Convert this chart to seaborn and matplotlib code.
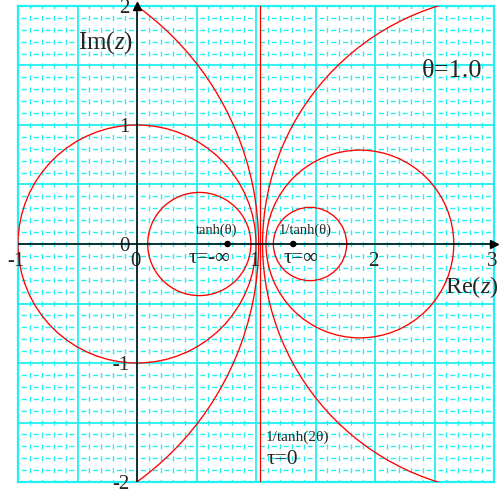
import matplotlib

matplotlib.use("Agg")

import matplotlib.pyplot as plt
import seaborn as sns
from matplotlib.patches import Circle
from matplotlib.ticker import MultipleLocator

# crossings of each red circle with the real axis (left end, right end)
CIRCLE_LEFT = [0.09, -1.0, -3.91, 1.146, 1.084, 1.055]
CIRCLE_RIGHT = [0.957, 1.0, 1.022, 1.762, 2.662, 5.243]
LINE_X = 1.0373  # 1/tanh(2θ), the τ=0 line
FOCI_X = [0.7616, 1.3130]  # tanh(θ), 1/tanh(θ)
FOCI_Y = [0.0, 0.0]
X_TICKS = [-1, 0, 1, 2, 3]
Y_TICKS = [2, 1, 0, -1, -2]

GRID = "#22F0F0"
SERIF = ["Liberation Serif", "DejaVu Serif"]


def setup() -> None:
    sns.set_theme(style="white")
    plt.rcParams["font.family"] = SERIF
    plt.rcParams["mathtext.fontset"] = "custom"
    plt.rcParams["mathtext.rm"] = "Liberation Serif"
    plt.rcParams["mathtext.it"] = "Liberation Serif:italic"
    plt.rcParams["lines.scale_dashes"] = False


def main() -> None:
    setup()
    fig = plt.figure(figsize=(4.99, 4.94), dpi=100)
    ax = fig.add_axes([18 / 499, 12 / 494, 476 / 499, 476 / 494])
    ax.set_xlim(-1, 3)
    ax.set_ylim(-2, 2)

    # cyan graph paper: solid every 0.5, dashed every 0.1
    ax.xaxis.set_major_locator(MultipleLocator(0.5))
    ax.yaxis.set_major_locator(MultipleLocator(0.5))
    ax.xaxis.set_minor_locator(MultipleLocator(0.1))
    ax.yaxis.set_minor_locator(MultipleLocator(0.1))
    ax.tick_params(which="both", length=0, labelbottom=False, labelleft=False)
    ax.grid(True, which="major", color=GRID, linewidth=1.3)
    ax.xaxis.grid(True, which="minor", color=GRID, linewidth=1.0, linestyle=(1.9, (3.6, 4.97)))
    ax.yaxis.grid(True, which="minor", color=GRID, linewidth=1.0, linestyle=(6.2, (3.6, 4.97)))
    ax.set_axisbelow(True)
    for side in ax.spines.values():
        side.set_color(GRID)
        side.set_linewidth(1.6)

    # τ = const circles
    for left, right in zip(CIRCLE_LEFT, CIRCLE_RIGHT):
        ax.add_patch(Circle(((left + right) / 2, 0), (right - left) / 2,
                            fill=False, edgecolor="red", linewidth=0.95, zorder=3))
    ax.axvline(LINE_X, color="red", linewidth=0.95, zorder=3)

    # axes with arrows
    ax.axhline(0, color="black", linewidth=1.1, zorder=4)
    ax.axvline(0, color="black", linewidth=1.1, zorder=4)
    ax.plot([0], [2], marker="^", ms=6, color="black", clip_on=False, zorder=5)
    ax.plot([3], [0], marker=">", ms=6, color="black", clip_on=False, zorder=5)

    sns.scatterplot(x=FOCI_X, y=FOCI_Y, color="black", s=22, edgecolor="none", zorder=6, ax=ax)

    for v in X_TICKS:
        ax.text(v - 0.015, -0.143, str(v), ha="center", va="center", fontsize=15)
    for v in Y_TICKS:
        ax.text(-0.06, v - 0.025, str(v), ha="right", va="center", fontsize=15)

    ax.text(-0.03, 1.694, "Im($z$)", ha="right", va="center", fontsize=18)
    ax.text(2.585, -0.36, "Re($z$)", ha="left", va="center", fontsize=17.5)
    ax.text(2.643, 1.45, "θ=1.0", ha="center", va="center", fontsize=19)

    ax.text(0.668, 0.113, "tanh(θ)", ha="center", va="center", fontsize=10.5)
    ax.text(1.416, 0.113, "1/tanh(θ)", ha="center", va="center", fontsize=10.5)
    ax.text(0.613, -0.122, "τ=-∞", ha="center", va="center", fontsize=15)
    ax.text(1.382, -0.122, "τ=∞", ha="center", va="center", fontsize=15)
    ax.text(1.084, -1.622, "1/tanh(2θ)", ha="left", va="center", fontsize=11)
    ax.text(1.084, -1.815, "τ=0", ha="left", va="center", fontsize=15.5)

    fig.savefig("out.png", dpi=100)
    plt.close(fig)


if __name__ == "__main__":
    main()
